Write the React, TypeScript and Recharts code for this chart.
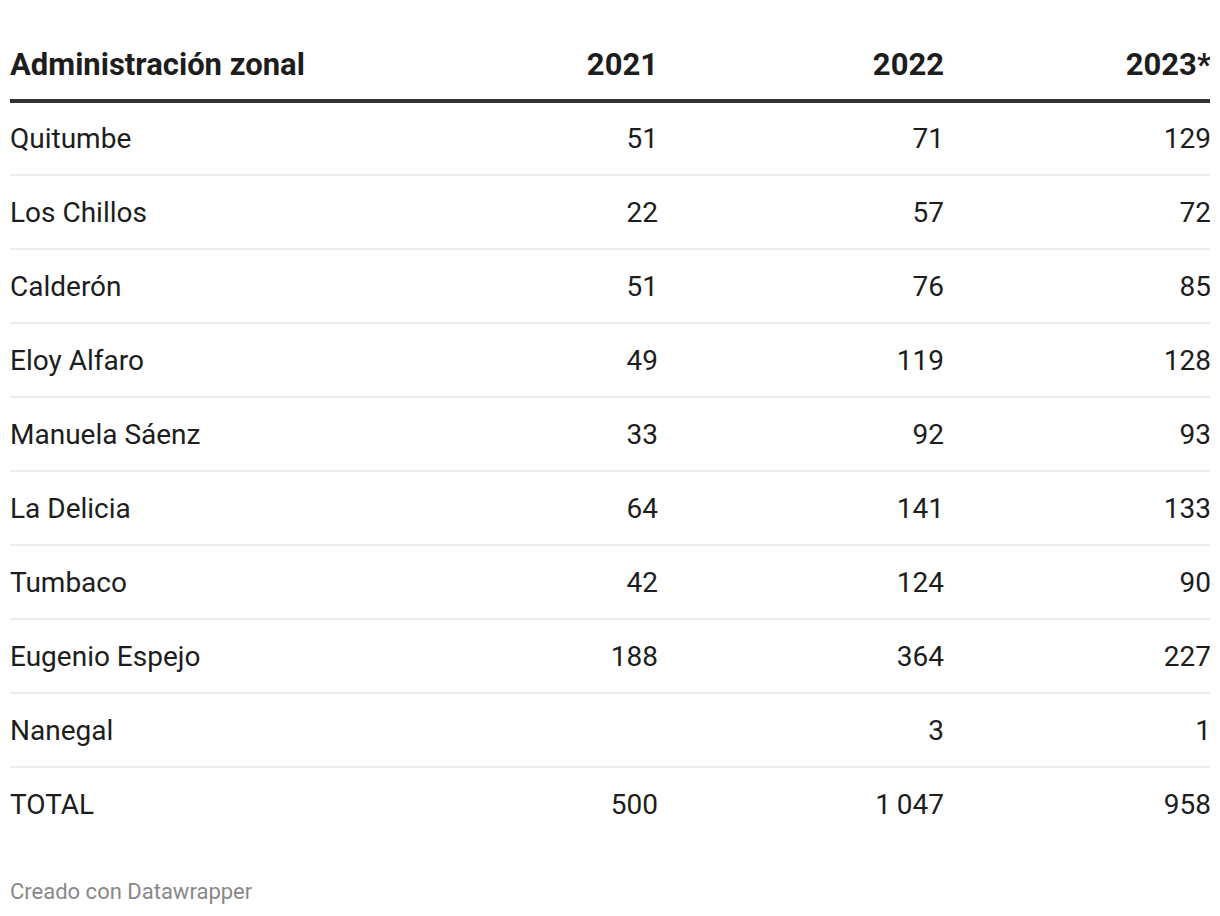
import React from "react";
import { ScatterChart, Scatter, XAxis, YAxis, ReferenceLine } from "recharts";

const headers = ["Administración zonal", "2021", "2022", "2023*"];
const zones = [
  "Quitumbe",
  "Los Chillos",
  "Calderón",
  "Eloy Alfaro",
  "Manuela Sáenz",
  "La Delicia",
  "Tumbaco",
  "Eugenio Espejo",
  "Nanegal",
  "TOTAL",
];
const v2021: (number | null)[] = [51, 22, 51, 49, 33, 64, 42, 188, null, 500];
const v2022: (number | null)[] = [71, 57, 76, 119, 92, 141, 124, 364, 3, 1047];
const v2023: (number | null)[] = [129, 72, 85, 128, 93, 133, 90, 227, 1, 958];
const footer = "Creado con Datawrapper";

// layout: column anchor positions on the horizontal scale (0..1200)
const colPos = [0, 647, 933, 1200];
const W = 1220;
const H = 916;
const FONT = "Roboto, 'Noto Sans', sans-serif";

const fmt = (v: number) =>
  String(v).replace(/\B(?=(\d{3})+(?!\d))/g, "\u2009");

type Cell = { x: number; y: number; label: string };

const labelCells: Cell[] = zones.map((z, i) => ({ x: colPos[0], y: i, label: z }));
const makeCol = (vals: (number | null)[], col: number): Cell[] =>
  vals
    .map((v, i) => (v == null ? null : { x: colPos[col], y: i, label: fmt(v) }))
    .filter((c): c is Cell => c !== null);
const col2021 = makeCol(v2021, 1);
const col2022 = makeCol(v2022, 2);
const col2023 = makeCol(v2023, 3);
const headerCells: Cell[] = headers.map((h, i) => ({ x: colPos[i], y: -1, label: h }));

const textShape =
  (anchor: "start" | "end", bold = false) =>
  (props: any) => {
    const { cx, cy, payload } = props;
    if (cx == null || cy == null) return <g />;
    const a = payload.x === 0 ? "start" : anchor;
    return (
      <text
        x={a === "end" ? cx + 1 : cx}
        y={cy + (bold ? 11 : 10)}
        textAnchor={a}
        fontFamily={FONT}
        fontSize={bold ? 31 : 28}
        fontWeight={bold ? 700 : 400}
        fill="#1d1d1d"
      >
        {payload.label}
      </text>
    );
  };

export default function App() {
  const sepRows = zones.slice(0, zones.length - 1).map((_, i) => i + 0.5);
  return (
    <div style={{ position: "absolute", left: 0, top: 0, width: W, height: H, background: "#fff" }}>
      <ScatterChart width={W} height={H} margin={{ top: 27, right: 10, bottom: 75, left: 10 }}>
        <XAxis type="number" dataKey="x" domain={[0, 1200]} hide allowDataOverflow />
        <YAxis type="number" dataKey="y" domain={[-1.5, 9.5]} reversed hide allowDataOverflow />
        <ReferenceLine y={-0.5} stroke="#333333" strokeWidth={4} ifOverflow="extendDomain" />
        {sepRows.map((r) => (
          <ReferenceLine key={r} y={r} stroke="#ececec" strokeWidth={2} />
        ))}
        <Scatter data={headerCells} shape={textShape("end", true)} isAnimationActive={false} />
        <Scatter data={labelCells} shape={textShape("start")} isAnimationActive={false} />
        <Scatter data={col2021} shape={textShape("end")} isAnimationActive={false} />
        <Scatter data={col2022} shape={textShape("end")} isAnimationActive={false} />
        <Scatter data={col2023} shape={textShape("end")} isAnimationActive={false} />
      </ScatterChart>
      <div
        style={{
          position: "absolute",
          left: 10,
          top: 877,
          fontFamily: FONT,
          fontSize: 22,
          color: "#888888",
          lineHeight: "30px",
        }}
      >
        {footer}
      </div>
    </div>
  );
}
